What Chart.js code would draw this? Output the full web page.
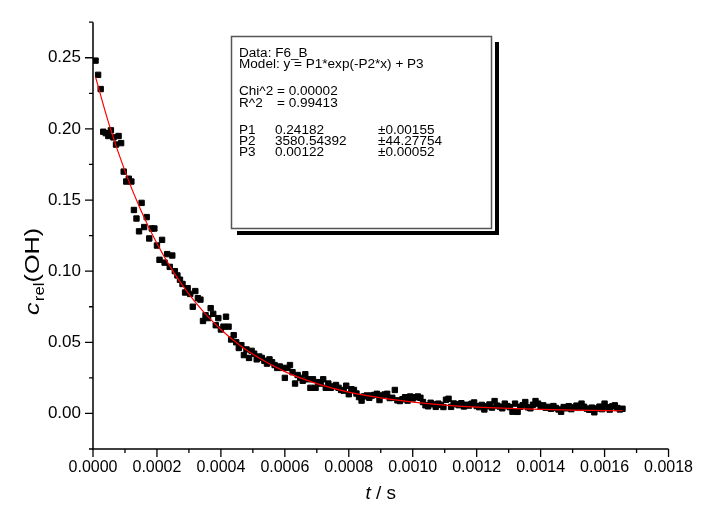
<!DOCTYPE html>
<html>
<head>
<meta charset="utf-8">
<script src="https://cdn.jsdelivr.net/npm/chart.js@4.4.1/dist/chart.umd.min.js"></script>
<style>
  html, body { margin: 0; padding: 0; background: #fff; }
  canvas { display: block; }
</style>
</head>
<body>
<canvas id="decayChart" width="702" height="511"></canvas>
<script>
// OH trace, one sample every 8 us, first sample at t = 8 us
const sampleStep = 8e-6;
const cRel = [
  0.248, 0.238, 0.228, 0.198, 0.197, 0.195, 0.199, 0.194, 0.189, 0.195,
  0.190, 0.170, 0.163, 0.165, 0.163, 0.143, 0.137, 0.128, 0.148, 0.131,
  0.138, 0.123, 0.130, 0.130, 0.118, 0.108, 0.122, 0.106, 0.112, 0.103,
  0.111, 0.100, 0.097, 0.094, 0.091, 0.085, 0.088, 0.084, 0.075, 0.086,
  0.081, 0.080, 0.065, 0.069, 0.067, 0.074, 0.070, 0.062, 0.067, 0.059,
  0.061, 0.068, 0.061, 0.052, 0.055, 0.050, 0.046, 0.048, 0.041, 0.045,
  0.039, 0.044, 0.042, 0.038, 0.040, 0.039, 0.037, 0.035, 0.038, 0.036,
  0.034, 0.032, 0.033, 0.032, 0.025, 0.032, 0.034, 0.029, 0.021, 0.027,
  0.025, 0.023, 0.0275, 0.024, 0.018, 0.024, 0.018, 0.022, 0.021, 0.024,
  0.018, 0.021, 0.018, 0.019, 0.020, 0.018, 0.0165, 0.016, 0.0195, 0.0135,
  0.017, 0.0165, 0.014, 0.0115, 0.009, 0.012, 0.0126, 0.011, 0.0126, 0.013,
  0.0138, 0.0094, 0.0126, 0.0133, 0.0138, 0.0108, 0.011, 0.0165, 0.0092, 0.0087,
  0.010, 0.0114, 0.009, 0.0119, 0.0105, 0.0114, 0.0119, 0.011, 0.008, 0.0057,
  0.005, 0.0075, 0.0064, 0.0046, 0.0069, 0.006, 0.0045, 0.0096, 0.0103, 0.0046,
  0.007, 0.0065, 0.0058, 0.0072, 0.0049, 0.0061, 0.0055, 0.0068, 0.0077, 0.0052,
  0.0044, 0.0060, 0.0028, 0.0050, 0.0063, 0.0041, 0.0087, 0.0055, 0.0048, 0.0036,
  0.0069, 0.0052, 0.0044, 0.0012, 0.0069, 0.0011, 0.0047, 0.0058, 0.0080, 0.0043,
  0.0036, 0.0061, 0.0087, 0.0069, 0.0050, 0.0057, 0.0040, 0.0046, 0.0033, 0.0052,
  0.0038, 0.0028, 0.0012, 0.0045, 0.0036, 0.0051, 0.0030, 0.0042, 0.0055, 0.0039,
  0.0069, 0.0047, 0.0034, 0.0026, 0.0041, 0.0008, 0.0035, 0.0048, 0.0030, 0.0069,
  0.0044, 0.0027, 0.0050, 0.0057, 0.0038, 0.0028, 0.0033
];

// exponential fit, sampled along the curve
const fitT = [0.000008, 0.00005, 0.0001, 0.00015, 0.0002, 0.00025, 0.0003, 0.00035,
  0.0004, 0.00045, 0.0005, 0.0006, 0.0007, 0.0008, 0.0009, 0.0010, 0.0011, 0.0012,
  0.0013, 0.0014, 0.0015, 0.001656];
const fitC = [0.2364, 0.2034, 0.1703, 0.1426, 0.1194, 0.1000, 0.0838, 0.0703,
  0.0590, 0.0495, 0.0416, 0.0294, 0.0210, 0.0150, 0.0109, 0.0080, 0.0059, 0.0045,
  0.0035, 0.0028, 0.0023, 0.0019];

const xTicks = [0, 0.0002, 0.0004, 0.0006, 0.0008, 0.0010, 0.0012, 0.0014, 0.0016, 0.0018];
const xMinor = [0.0001, 0.0003, 0.0005, 0.0007, 0.0009, 0.0011, 0.0013, 0.0015, 0.0017];
const yTicks = [0, 0.05, 0.10, 0.15, 0.20, 0.25];
const yMinor = [-0.025, 0.025, 0.075, 0.125, 0.175, 0.225, 0.275];

const reportHead = ['Data: F6_B', 'Model: y = P1*exp(-P2*x) + P3'];
const reportStats = [['Chi^2', '= 0.00002'], ['R^2', '= 0.99413']];
const reportParams = [
  ['P1', '0.24182', '\u00b10.00155'],
  ['P2', '3580.54392', '\u00b144.27754'],
  ['P3', '0.00122', '\u00b10.00052']
];

const FONT = '"Liberation Sans", Arial, sans-serif';

// text drawn slightly widened, the way the plotting program renders it
function wideText(ctx, s, x, y, sx) {
  ctx.save();
  ctx.translate(x, y);
  ctx.scale(sx, 1);
  ctx.fillText(s, 0, 0);
  ctx.restore();
}

// axes with long/short ticks, axis titles and the fit report box
const decorations = {
  id: 'decorations',
  afterDraw(chart) {
    const ctx = chart.ctx;
    const xs = chart.scales.x, ys = chart.scales.y;
    const area = chart.chartArea;
    ctx.save();
    ctx.strokeStyle = '#000';
    ctx.fillStyle = '#000';
    ctx.lineWidth = 1.5;
    ctx.beginPath();
    ctx.moveTo(area.left, area.top);
    ctx.lineTo(area.left, area.bottom);
    ctx.lineTo(area.right, area.bottom);
    ctx.stroke();

    ctx.lineWidth = 1.3;
    ctx.beginPath();
    xTicks.forEach(v => { const p = xs.getPixelForValue(v); ctx.moveTo(p, area.bottom); ctx.lineTo(p, area.bottom + 8); });
    xMinor.forEach(v => { const p = xs.getPixelForValue(v); ctx.moveTo(p, area.bottom); ctx.lineTo(p, area.bottom + 4); });
    yTicks.forEach(v => { const p = ys.getPixelForValue(v); ctx.moveTo(area.left, p); ctx.lineTo(area.left - 8, p); });
    yMinor.forEach(v => { const p = ys.getPixelForValue(v); ctx.moveTo(area.left, p); ctx.lineTo(area.left - 4, p); });
    ctx.stroke();

    // x title: t / s
    ctx.textBaseline = 'alphabetic';
    ctx.font = 'italic 19px ' + FONT;
    const tW = ctx.measureText('t').width;
    ctx.font = '19px ' + FONT;
    const sW = ctx.measureText(' / s').width;
    const cx = (area.left + area.right) / 2;
    const x0 = cx - (tW + sW) / 2;
    ctx.font = 'italic 19px ' + FONT;
    ctx.fillText('t', x0, 499);
    ctx.font = '19px ' + FONT;
    ctx.fillText(' / s', x0 + tW, 499);

    // y title: c_rel(OH), rotated and widened along its baseline
    ctx.save();
    ctx.translate(39, 272);
    ctx.rotate(-Math.PI / 2);
    ctx.scale(1.2, 1);
    ctx.font = 'italic 21px ' + FONT;
    const cW = ctx.measureText('c').width;
    ctx.font = '14px ' + FONT;
    const rW = ctx.measureText('rel').width;
    ctx.font = '21px ' + FONT;
    const ohW = ctx.measureText('(OH)').width;
    const y0 = -(cW + rW + ohW) / 2;
    ctx.font = 'italic 21px ' + FONT;
    ctx.fillText('c', y0, 0);
    ctx.font = '14px ' + FONT;
    ctx.fillText('rel', y0 + cW + 1, 5);
    ctx.font = '21px ' + FONT;
    ctx.fillText('(OH)', y0 + cW + rW + 1, 0);
    ctx.restore();

    // fit report with drop shadow
    ctx.fillStyle = '#000';
    ctx.fillRect(237, 231, 262, 4);
    ctx.fillRect(495, 42, 4, 193);
    ctx.fillStyle = '#fff';
    ctx.fillRect(231, 36, 261, 193);
    ctx.strokeStyle = '#555';
    ctx.lineWidth = 1.5;
    ctx.strokeRect(231.5, 36.5, 260, 192);
    ctx.fillStyle = '#000';
    ctx.font = '12px ' + FONT;
    const sx = 1.13;
    const lh = 11.3;
    let base = 57;
    reportHead.forEach(s => { wideText(ctx, s, 239, base, sx); base += lh; });
    base += lh * 1.4;
    reportStats.forEach(r => { wideText(ctx, r[0], 239, base, sx); wideText(ctx, r[1], 277, base, sx); base += lh; });
    base += lh * 1.4;
    reportParams.forEach(r => {
      wideText(ctx, r[0], 239, base, sx);
      wideText(ctx, r[1], 275, base, sx);
      wideText(ctx, r[2], 378, base, sx);
      base += lh;
    });
    ctx.restore();
  }
};

const ctx = document.getElementById('decayChart').getContext('2d');
new Chart(ctx, {
  type: 'scatter',
  data: {
    datasets: [{
      label: 'fit',
      data: fitT.map((t, i) => ({ x: t, y: fitC[i] })),
      showLine: true,
      borderColor: '#ff0000',
      borderWidth: 1.2,
      pointRadius: 0,
      cubicInterpolationMode: 'monotone',
      order: 0
    }, {
      label: 'F6_B',
      data: cRel.map((c, i) => ({ x: (i + 1) * sampleStep, y: c })),
      pointStyle: 'rect',
      pointRadius: 3.8,
      backgroundColor: '#000',
      borderColor: '#000',
      borderWidth: 1,
      order: 1
    }]
  },
  options: {
    responsive: false,
    animation: false,
    devicePixelRatio: 1,
    layout: { padding: { top: 14, right: 27, left: 0, bottom: 0 } },
    plugins: { legend: { display: false }, tooltip: { enabled: false } },
    scales: {
      x: {
        type: 'linear',
        min: 0,
        max: 0.0018,
        afterBuildTicks: s => { s.ticks = xTicks.map(v => ({ value: v })); },
        afterFit: s => { s.height = 62; },
        grid: { display: false, drawTicks: false },
        border: { display: false },
        ticks: {
          padding: 9,
          color: '#000',
          font: { family: FONT, size: 16 },
          maxRotation: 0,
          autoSkip: false,
          callback: v => v.toFixed(4)
        }
      },
      y: {
        type: 'linear',
        min: -0.025,
        max: 0.275,
        afterBuildTicks: s => { s.ticks = yTicks.map(v => ({ value: v })); },
        afterFit: s => { s.width = 93; },
        grid: { display: false, drawTicks: false },
        border: { display: false },
        ticks: {
          padding: 12,
          color: '#000',
          font: { family: FONT, size: 17 },
          autoSkip: false,
          callback: v => v.toFixed(2)
        }
      }
    }
  },
  plugins: [decorations]
});
</script>
</body>
</html>
